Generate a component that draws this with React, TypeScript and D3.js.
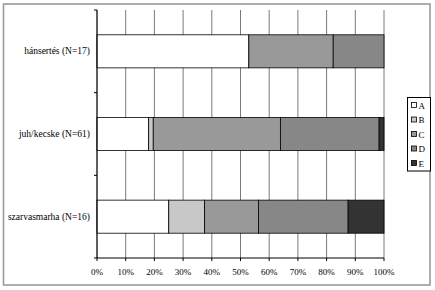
import React from "react";
import * as d3 from "d3";

const categories = ["hánsertés (N=17)", "juh/kecske (N=61)", "szarvasmarha (N=16)"];
const seriesNames = ["A", "B", "C", "D", "E"];
// percentages per category (A..E)
const seriesA = [52.9, 18.0, 25.0];
const seriesB = [0, 1.6, 12.5];
const seriesC = [29.4, 44.3, 18.75];
const seriesD = [17.7, 34.4, 31.25];
const seriesE = [0, 1.7, 12.5];
const tickValues = [0, 10, 20, 30, 40, 50, 60, 70, 80, 90, 100];
const colors = ["#ffffff", "#c8c8c8", "#999999", "#878787", "#333333"];

const W = 435;
const H = 290;
const plot = { left: 97, right: 384, top: 10, bottom: 258 };
const font = "'Liberation Serif', 'Times New Roman', serif";

export default function App() {
  const x = d3.scaleLinear().domain([0, 100]).range([plot.left, plot.right]);
  const y = d3.scaleBand<string>().domain(categories).range([plot.top, plot.bottom]).paddingInner(0.6).paddingOuter(0.3);
  const bandStep = y.step();
  const rows = categories.map((c, i) => {
    const obj: any = { cat: c };
    obj.A = seriesA[i];
    obj.B = seriesB[i];
    obj.C = seriesC[i];
    obj.D = seriesD[i];
    obj.E = seriesE[i];
    return obj;
  });
  const stack = d3.stack<any>().keys(seriesNames)(rows);
  const boundaries = d3.range(categories.length + 1).map((i) => plot.top + i * bandStep);

  return (
    <svg width={W} height={H} style={{ position: "absolute", left: 0, top: 0, background: "#fff" }} fontFamily={font}>
      <rect x={3.5} y={4} width={426.5} height={281} fill="#fff" stroke="#9a9a9a" strokeWidth={1.6} />
      {tickValues.map((t) => (
        <line key={"g" + t} x1={x(t)} x2={x(t)} y1={plot.top} y2={plot.bottom} stroke="#7a7a7a" strokeWidth={1} />
      ))}
      {stack.map((layer, si) =>
        layer.map((d, ci) => {
          const w = x(d[1]) - x(d[0]);
          if (w <= 0.01) return null;
          return (
            <rect
              key={si + "-" + ci}
              x={x(d[0])}
              y={y(categories[ci])!}
              width={w}
              height={y.bandwidth()}
              fill={colors[si]}
              stroke="#000"
              strokeWidth={0.8}
            />
          );
        })
      )}
      {/* axes */}
      <line x1={plot.left} x2={plot.left} y1={plot.top} y2={plot.bottom} stroke="#000" strokeWidth={1} />
      <line x1={plot.left} x2={plot.right} y1={plot.bottom} y2={plot.bottom} stroke="#000" strokeWidth={1} />
      {boundaries.map((b, i) => (
        <line key={"yt" + i} x1={plot.left - 3} x2={plot.left} y1={b} y2={b} stroke="#000" strokeWidth={1} />
      ))}
      {tickValues.map((t) => (
        <g key={"t" + t}>
          <line x1={x(t)} x2={x(t)} y1={plot.bottom} y2={plot.bottom + 3} stroke="#000" strokeWidth={1} />
          <text x={x(t)} y={275} fontSize={9} textAnchor="middle" fill="#000">{t + "%"}</text>
        </g>
      ))}
      {categories.map((c) => (
        <text key={c} x={90} y={y(c)! + y.bandwidth() / 2 + 3} fontSize={9.5} textAnchor="end" fill="#000">{c}</text>
      ))}
      {/* legend */}
      <rect x={407.5} y={97.5} width={23} height={73.5} fill="#fff" stroke="#000" strokeWidth={1} />
      {seriesNames.map((s, i) => (
        <g key={"l" + s}>
          <rect x={411.5} y={102.5 + i * 14.5} width={5} height={5} fill={colors[i]} stroke="#000" strokeWidth={0.8} />
          <text x={418.5} y={108.5 + i * 14.5} fontSize={9} fill="#000">{s}</text>
        </g>
      ))}
    </svg>
  );
}
